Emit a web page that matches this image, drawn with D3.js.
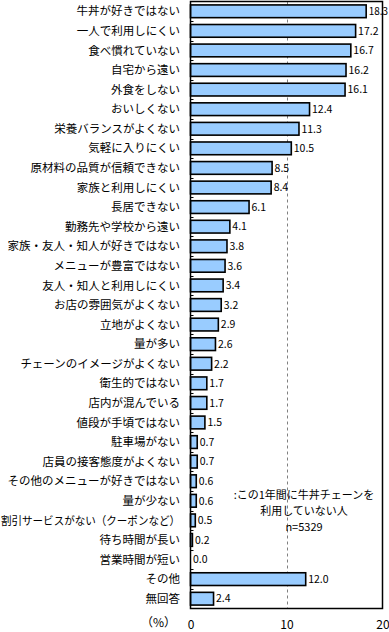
<!DOCTYPE html>
<html>
<head>
<meta charset="utf-8">
<script src="https://cdn.jsdelivr.net/npm/d3@7"></script>
<style>
  body { margin: 0; background: #fff; }
  text { font-family: "Noto Sans CJK JP", sans-serif; fill: #000; }
</style>
</head>
<body>
<div id="chart"></div>
<script>
// 牛丼チェーンを利用しない理由 (%)
var categories = [
    "牛丼が好きではない", "一人で利用しにくい", "食べ慣れていない", "自宅から遠い",
    "外食をしない", "おいしくない", "栄養バランスがよくない", "気軽に入りにくい",
    "原材料の品質が信頼できない", "家族と利用しにくい", "長居できない",
    "勤務先や学校から遠い", "家族・友人・知人が好きではない", "メニューが豊富ではない",
    "友人・知人と利用しにくい", "お店の雰囲気がよくない", "立地がよくない", "量が多い",
    "チェーンのイメージがよくない", "衛生的ではない", "店内が混んでいる",
    "値段が手頃ではない", "駐車場がない", "店員の接客態度がよくない",
    "その他のメニューが好きではない", "量が少ない", "割引サービスがない（クーポンなど）",
    "待ち時間が長い", "営業時間が短い", "その他", "無回答"
];
var values = [
    18.3, 17.2, 16.7, 16.2, 16.1, 12.4, 11.3, 10.5, 8.5, 8.4, 6.1,
    4.1, 3.8, 3.6, 3.4, 3.2, 2.9, 2.6, 2.2, 1.7, 1.7,
    1.5, 0.7, 0.7, 0.6, 0.6, 0.5, 0.2, 0.0, 12.0, 2.4
];
var xTicks = [0, 10, 20];
var legendLines = [":この1年間に牛丼チェーンを", "利用していない人", "n=5329"];
var unitLabel = "（%）";

var w = 389;
var h = 632;
var pLeft = 190.5, pRight = 382.5, pTop = 1.5, pBottom = 608.5;
var labelRight = 180;

var data = categories.map(function(c, i) { return {cat: c, val: values[i]}; });

var xscale = d3.scaleLinear()
                .domain([0, 20])
                .range([pLeft, pRight]);

var yscale = d3.scaleBand()
                .domain(categories)
                .range([pTop, pBottom])
                .paddingInner(0.35)
                .paddingOuter(0.175);

var svg = d3.select("#chart")
            .append("svg")
            .attr("width", w)
            .attr("height", h);

// dashed gridline at 10
svg.append("g")
    .selectAll("line")
    .data(xTicks.slice(1, -1))
    .enter()
    .append("line")
    .attr("x1", function(d) { return Math.round(xscale(d)) + 0.5; })
    .attr("x2", function(d) { return Math.round(xscale(d)) + 0.5; })
    .attr("y1", pTop)
    .attr("y2", pBottom)
    .attr("stroke", "#808080")
    .attr("stroke-dasharray", "3,3");

// bars
svg.append("g")
    .selectAll("rect")
    .data(data)
    .enter()
    .append("rect")
    .attr("x", xscale(0))
    .attr("y", function(d) { return yscale(d.cat); })
    .attr("width", function(d) { return xscale(d.val) - xscale(0); })
    .attr("height", yscale.bandwidth())
    .attr("fill", "#99ccff")
    .attr("stroke", "#000")
    .attr("stroke-width", 1.6);

// value labels
svg.append("g")
    .selectAll("text")
    .data(data)
    .enter()
    .append("text")
    .attr("x", function(d) { return xscale(d.val) + 2.5; })
    .attr("y", function(d) { return yscale(d.cat) + yscale.bandwidth() / 2; })
    .attr("dy", "0.36em")
    .style("font-size", "10.5px")
    .text(function(d) { return d.val.toFixed(1); })
    .each(function(d) {
        // keep the longest bar's label inside the window
        var room = w - 1 - (xscale(d.val) + 2.5);
        if (this.getComputedTextLength() > room) {
            d3.select(this)
                .attr("textLength", room)
                .attr("lengthAdjust", "spacingAndGlyphs");
        }
    });

// category labels
svg.append("g")
    .selectAll("text")
    .data(categories)
    .enter()
    .append("text")
    .attr("x", labelRight)
    .attr("y", function(d) { return yscale(d) + yscale.bandwidth() / 2; })
    .attr("dy", "0.36em")
    .attr("text-anchor", "end")
    .style("font-size", "11.5px")
    .text(function(d) { return d; })
    .each(function() {
        // squeeze the one label that would run off the left edge
        if (this.getComputedTextLength() > labelRight) {
            d3.select(this)
                .attr("textLength", labelRight - 1)
                .attr("lengthAdjust", "spacingAndGlyphs");
        }
    });

// small ticks between categories
var step = yscale.step();
svg.append("g")
    .selectAll("line")
    .data(d3.range(1, categories.length))
    .enter()
    .append("line")
    .attr("x1", pLeft)
    .attr("x2", pLeft + 3)
    .attr("y1", function(i) { return Math.round(pTop + i * step) + 0.5; })
    .attr("y2", function(i) { return Math.round(pTop + i * step) + 0.5; })
    .attr("stroke", "#000");

// frame
svg.append("rect")
    .attr("x", pLeft)
    .attr("y", pTop)
    .attr("width", pRight - pLeft)
    .attr("height", pBottom - pTop)
    .attr("fill", "none")
    .attr("stroke", "#000")
    .attr("stroke-width", 1.5);

// x axis labels
var xaxis = d3.axisBottom(xscale).tickValues(xTicks).tickSize(0).tickPadding(0);
svg.append("g")
    .attr("class", "x axis")
    .attr("transform", "translate(0," + (pBottom + 12) + ")")
    .call(xaxis)
    .call(function(g) { g.select(".domain").remove(); })
    .selectAll("text")
    .style("font-size", "12px")
    .style("font-family", "'Noto Sans CJK JP', sans-serif");

svg.append("text")
    .attr("x", 176)
    .attr("y", 627)
    .attr("text-anchor", "end")
    .style("font-size", "12px")
    .text(unitLabel);

// legend note
svg.append("g")
    .selectAll("text")
    .data(legendLines)
    .enter()
    .append("text")
    .attr("x", 304)
    .attr("y", function(d, i) { return 495 + i * 16; })
    .attr("dy", "0.36em")
    .attr("text-anchor", "middle")
    .style("font-size", "11px")
    .text(function(d) { return d; });
</script>
</body>
</html>
